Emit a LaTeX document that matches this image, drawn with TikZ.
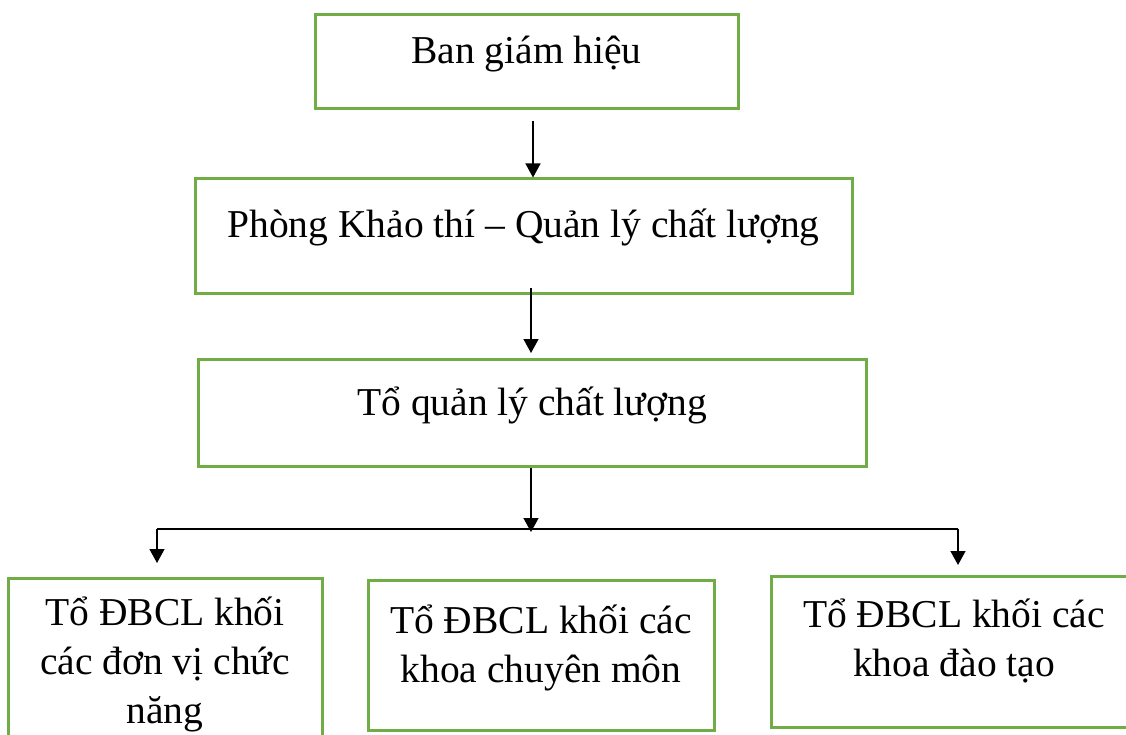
\documentclass[tikz,border=0pt]{standalone}
\usepackage{fontspec}
\setmainfont{Liberation Serif}
\usetikzlibrary{arrows.meta}
\definecolor{boxgreen}{RGB}{112,173,71}
\tikzset{
  box/.style={draw=boxgreen, line width=3pt, inner sep=0pt, rectangle},
  lbl/.style={inner sep=0pt, anchor=base, font=\fontsize{39.5}{49}\selectfont},
  arr/.style={draw=black, line width=1.4pt, -{Triangle[width=15pt,length=14pt]}},
  bus/.style={draw=black, line width=2.3pt}
}
\newcommand{\mylines}[1]{\begin{tabular}[t]{@{}c@{}}#1\end{tabular}}
\begin{document}
\begin{tikzpicture}[x=1pt,y=-1pt]
\useasboundingbox (0,0) rectangle (1126,735);
\clip (0,0) rectangle (1126,735);
% boxes
\node[box, minimum width=423pt, minimum height=94pt] (b1) at (526.5,62) {};
\node[box, minimum width=657pt, minimum height=114pt] (b2) at (523.5,236) {};
\node[box, minimum width=668pt, minimum height=107pt] (b3) at (532,412.5) {};
\node[box, minimum width=314pt, minimum height=182pt] (b4) at (165,669) {};
\node[box, minimum width=346pt, minimum height=150pt] (b5) at (541,655) {};
\node[box, minimum width=366pt, minimum height=151pt] (b6) at (954,651.5) {};
% texts
\node[lbl] (t1) at (526.5,64) {Ban giám hiệu};
\node[lbl] (t2) at (523.5,238) {Phòng Khảo thí – Quản lý chất lượng};
\node[lbl] (t3) at (532,415) {Tổ quản lý chất lượng};
\node[lbl] (t4) at (165,625) {\mylines{Tổ ĐBCL khối\\các đơn vị chức\\năng}};
\node[lbl] (t5) at (541,633) {\mylines{Tổ ĐBCL khối các\\khoa chuyên môn}};
\node[lbl] (t6) at (954,627) {\mylines{Tổ ĐBCL khối các\\khoa đào tạo}};
% connectors
\coordinate (s1) at (533,121);
\draw[arr] (s1) -- (s1 |- b2.north);
\coordinate (s2) at (531,288);
\coordinate (e2) at (531,353);
\draw[arr] (s2) -- (e2);
\coordinate (e3) at (531,532);
\draw[arr] (b3.south -| e3) -- (e3);
\coordinate (hl) at (157,529);
\coordinate (hr) at (958,529);
\draw[bus] (hl) -- (hr);
\coordinate (e4) at (157,563);
\coordinate (e6) at (958,565);
\draw[arr] (hl) -- (e4);
\draw[arr] (hr) -- (e6);
\end{tikzpicture}
\end{document}
